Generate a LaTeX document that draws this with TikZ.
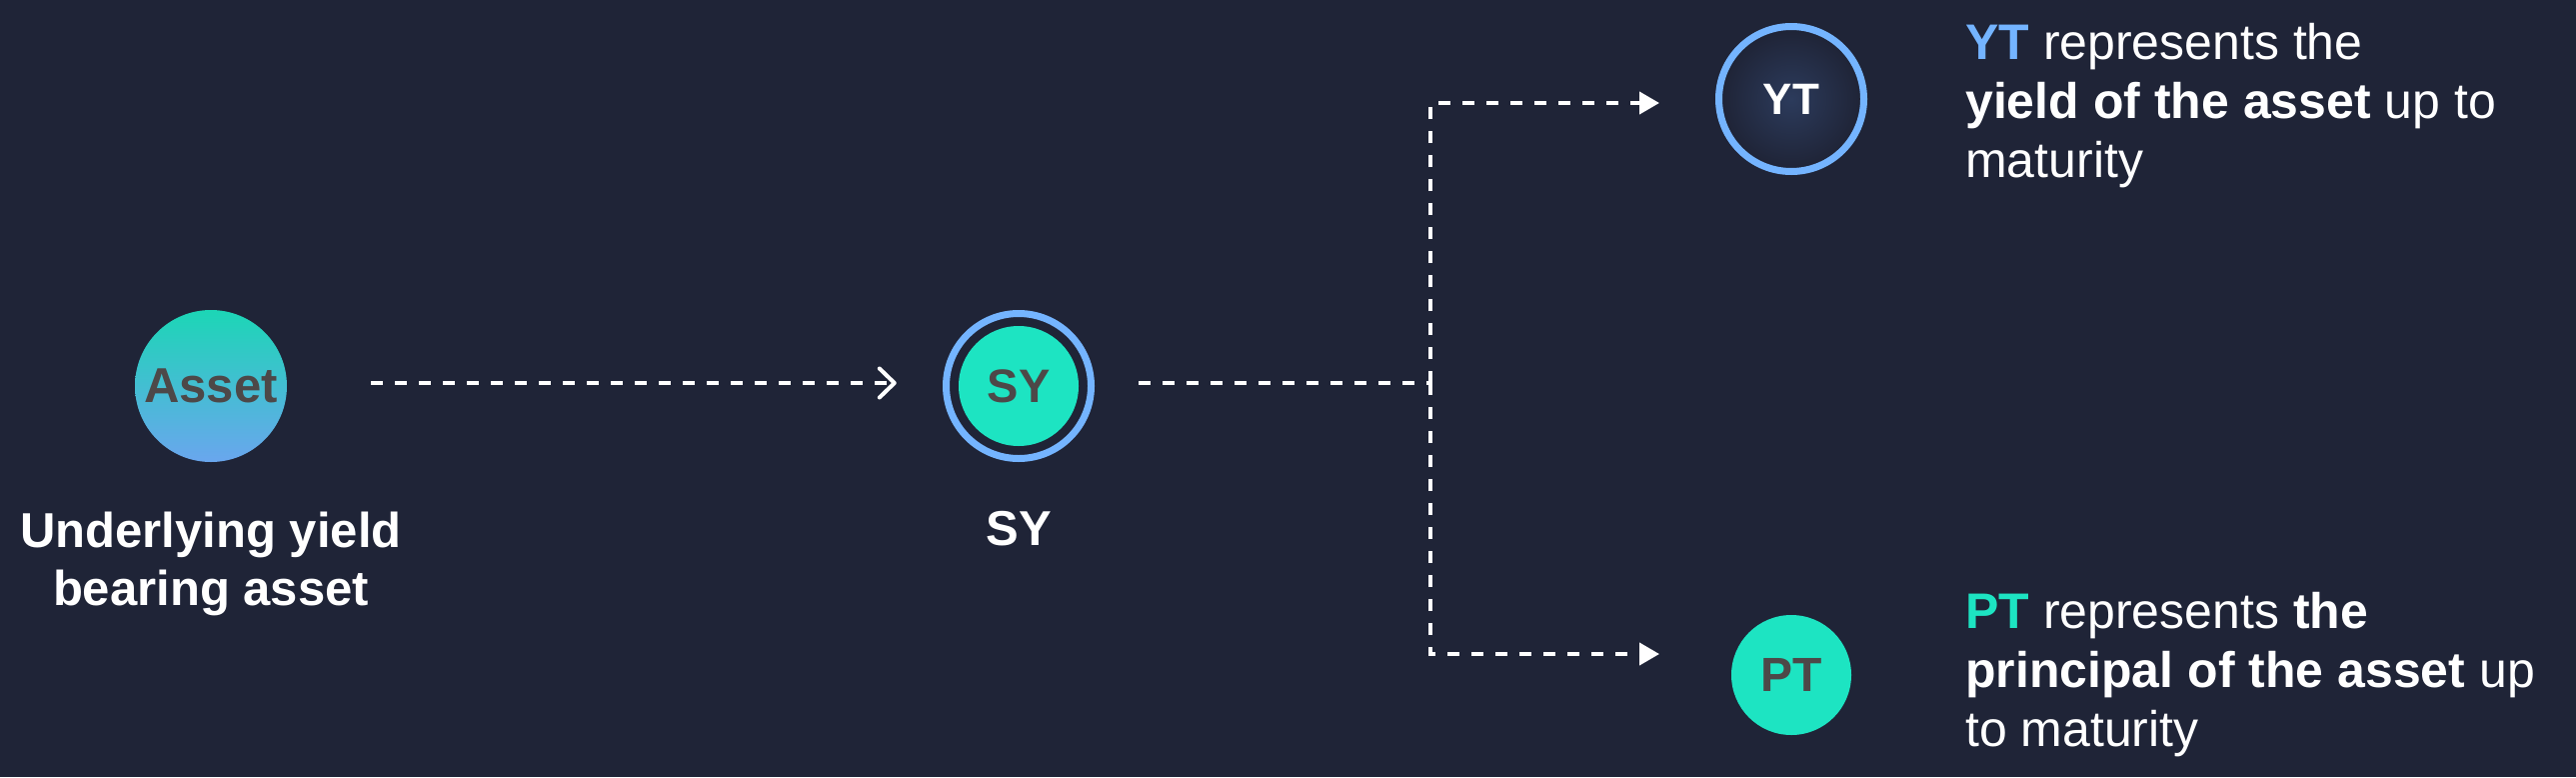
\documentclass[tikz,border=0pt]{standalone}
\usepackage{fontspec}
\setmainfont{Liberation Sans}
\usetikzlibrary{arrows.meta,shapes.geometric}
\definecolor{bgc}{HTML}{1F2437}
\definecolor{tealc}{HTML}{1DE4C2}
\definecolor{ringc}{HTML}{74B4FF}
\definecolor{grayt}{HTML}{4D4848}
\definecolor{gtop}{HTML}{1CD6B6}
\definecolor{gbot}{HTML}{6AA6EE}
\definecolor{glowc}{HTML}{2C3B5C}
\tikzset{
  x=1pt, y=-1pt,
  dashline/.style={draw=white, line width=4pt, dash pattern=on 12pt off 12pt},
  chev/.style={-{Straight Barb[length=15pt,width=29pt,line cap=round,line join=round]}},
  tri/.style={-{Triangle[length=20pt,width=22pt]}},
  innerlbl/.style={font=\fontsize{48}{48}\selectfont\bfseries, text=grayt},
  desc/.style={font=\fontsize{50}{59}\selectfont, text=white, align=left, anchor=base west, inner sep=0pt},
  caption/.style={font=\fontsize{49}{58}\selectfont\bfseries, text=white, align=center, anchor=base, inner sep=0pt},
}
\begin{document}
\begin{tikzpicture}
\fill[bgc] (0,0) rectangle (2577,777);
\useasboundingbox (0,0) rectangle (2577,777);

% Asset
\node[circle, minimum size=152pt, inner sep=0pt, top color=gtop, bottom color=gbot, innerlbl, font=\fontsize{49}{49}\selectfont\bfseries] (asset) at (211,386) {Asset};
\node[caption] (assetlbl) at (211,605) {Underlying yield\\bearing asset};

% SY
\node[circle, minimum size=120pt, inner sep=0pt, fill=tealc, innerlbl, font=\fontsize{47}{47}\selectfont\bfseries] (sy) at (1019,386) {SY};
\draw[ringc, line width=7pt] (sy.center) circle[radius=72.5pt];
\node[caption] (sylbl) at (1019,545) {SY};

% YT
\node[circle, minimum size=138pt, inner sep=0pt, inner color=glowc, outer color=bgc] (yt) at (1792,99) {};
\draw[ringc, line width=7pt] (yt.center) circle[radius=72.5pt];
\node[font=\fontsize{44}{44}\selectfont\bfseries, text=white] (ytin) at (yt.center) {YT};

% PT
\node[circle, minimum size=120pt, inner sep=0pt, fill=tealc, innerlbl] (pt) at (1792,675) {PT};

% descriptions
\node[desc] (ytdesc) at (1966,177) {{\bfseries\color{ringc}YT} represents the\\{\bfseries yield of the asset} up to\\maturity};
\node[desc] (ptdesc) at (1966,746) {{\bfseries\color{tealc}PT} represents {\bfseries the}\\{\bfseries principal of the asset} up\\to maturity};

% connectors
\coordinate (junc) at (1431,383);
\coordinate (ytend) at (1660,103);
\coordinate (ptend) at (1660,654);
\draw[dashline, chev, shorten <=84pt, shorten >=62pt] (asset.east |- 0,383) -- (sy.west |- 0,383);
\draw[dashline, shorten <=60pt] (sy.east |- junc) -- (junc);
\draw[dashline, tri] (junc) |- (ytend);
\draw[dashline, tri] (junc) |- (ptend);
\end{tikzpicture}
\end{document}
